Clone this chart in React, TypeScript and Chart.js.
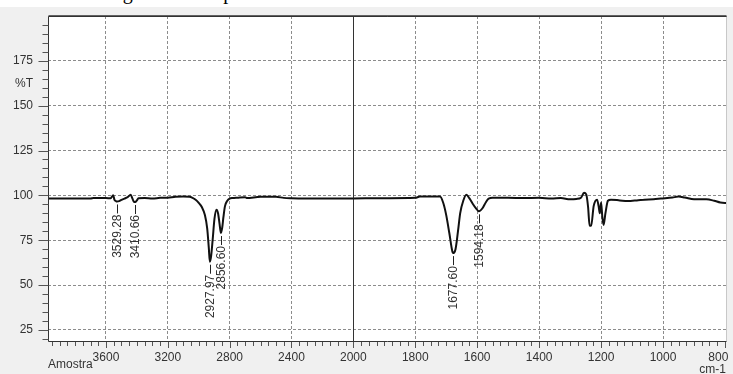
import React, { useEffect, useRef } from 'react';
import { Chart, registerables } from 'chart.js';

Chart.register(...registerables);

// Spectrum, high wavenumber part (3975 -> 2000 cm-1)
const WN_HIGH = [
  3975, 3700, 3680, 3600, 3570, 3553, 3545, 3535, 3529.28, 3515, 3500, 3480, 3460, 3440, 3430, 3420,
  3410.66, 3400, 3390, 3350, 3300, 3250, 3200, 3150, 3100, 3060, 3040, 3020, 3000, 2980, 2960, 2945,
  2935, 2927.97, 2920, 2910, 2898, 2885, 2875, 2865, 2856.6, 2848, 2840, 2830, 2815, 2800, 2780, 2750,
  2700, 2690, 2600, 2500, 2450, 2400, 2300, 2200, 2100, 2000,
];
const T_HIGH = [
  98.3, 98.3, 98.5, 98.5, 98.4, 100.0, 97.5, 96.8, 96.6, 96.8, 97.5, 98.2, 99.0, 100.3, 98.5, 96.5,
  96.3, 97.2, 98.4, 98.5, 98.3, 98.6, 98.7, 99.2, 99.3, 99.2, 98.6, 97.5, 95.8, 93.5, 89.0, 81.5,
  71.0, 63.0, 66.0, 75.0, 87.0, 92.0, 90.0, 84.0, 79.0, 82.0, 88.0, 94.0, 97.0, 98.2, 98.5, 98.7,
  99.0, 98.5, 99.2, 99.2, 98.6, 98.4, 98.3, 98.3, 98.3, 98.3,
];

// Spectrum, low wavenumber part (2000 -> 795 cm-1)
const WN_LOW = [
  2000, 1900, 1820, 1800, 1785, 1740, 1720, 1710, 1700, 1690, 1680, 1677.6, 1670, 1662, 1655, 1645,
  1635, 1625, 1615, 1605, 1594.18, 1583, 1572, 1563, 1550, 1500, 1450, 1400, 1360, 1330, 1300, 1280,
  1265, 1255, 1248, 1242, 1237, 1232, 1224, 1213, 1208, 1204, 1200, 1196, 1192, 1186, 1178, 1168,
  1140, 1115, 1080, 1060, 1030, 1007, 970, 950, 930, 900, 860, 835, 815, 800, 795,
];
const T_LOW = [
  98.3, 98.4, 98.5, 98.6, 99.3, 99.4, 99.3, 96.0, 89.0, 79.0, 68.5, 67.8, 70.0, 80.0, 90.0, 97.0,
  100.3, 98.3, 95.5, 93.0, 91.1, 92.8, 96.2, 98.2, 98.6, 98.6, 98.5, 98.6, 98.2, 98.5, 97.8, 98.0,
  98.7, 101.4, 100.5, 93.5, 83.0, 83.0, 94.0, 97.6, 94.0, 90.0, 96.0, 88.0, 83.5, 90.0, 97.0, 97.6,
  97.2, 96.8, 97.3, 97.6, 97.8, 98.2, 98.8, 99.3, 98.8, 97.8, 97.8, 97.0, 96.0, 95.8, 95.8,
];

const X_TICKS_HIGH = [3600, 3200, 2800, 2400];
const X_TICKS_LOW = [2000, 1800, 1600, 1400, 1200, 1000, 800];
const Y_TICKS = [25, 50, 75, 100, 125, 150, 175];

const PEAK_WN = [3529.28, 3410.66, 2927.97, 2856.6, 1677.6, 1594.18];
const PEAK_T = [96.6, 96.3, 63.0, 79.0, 67.8, 91.1];
const PEAK_LABELS = ['3529.28', '3410.66', '2927.97', '2856.60', '1677.60', '1594.18'];

const FONT_FAMILY = '"Liberation Sans", Arial, sans-serif';
const TEXT_COLOR = '#333333';
const GRID_COLOR = '#8c8c8c';
const GRID_DASH = [3, 2];

const decorPlugin = {
  id: 'decor',
  beforeDraw(chart: any) {
    const { ctx, chartArea } = chart;
    ctx.save();
    ctx.fillStyle = '#f0f0f0';
    ctx.fillRect(0, 0, chart.width, chart.height);
    ctx.fillStyle = '#ffffff';
    ctx.fillRect(chartArea.left, chartArea.top, chartArea.right - chartArea.left, chartArea.bottom - chartArea.top);
    ctx.restore();
  },
  beforeDatasetsDraw(chart: any) {
    const { ctx, chartArea } = chart;
    const xr = chart.scales.xl;
    const x = Math.round(xr.getPixelForValue(2000)) + 0.5;
    ctx.save();
    ctx.strokeStyle = '#333333';
    ctx.lineWidth = 1;
    ctx.beginPath();
    ctx.moveTo(x, chartArea.top);
    ctx.lineTo(x, chartArea.bottom);
    ctx.stroke();
    ctx.restore();
  },
  afterDraw(chart: any) {
    const { ctx, chartArea } = chart;
    const xh = chart.scales.xh;
    const xl = chart.scales.xl;
    const y = chart.scales.y;
    const L = chartArea.left + 0.5;
    const R = Math.round(chartArea.right) - 0.5;
    const T = Math.round(chartArea.top) + 0.5;
    const B = Math.round(chartArea.bottom) + 0.5;
    ctx.save();
    // frame
    ctx.lineWidth = 1;
    ctx.strokeStyle = '#c8c8c8';
    ctx.beginPath();
    ctx.moveTo(R, T);
    ctx.lineTo(R, B);
    ctx.stroke();
    ctx.strokeStyle = '#333333';
    ctx.beginPath();
    ctx.moveTo(L, B);
    ctx.lineTo(L, T);
    ctx.lineTo(R, T);
    ctx.moveTo(L, B);
    ctx.lineTo(R, B);
    ctx.stroke();
    ctx.lineWidth = 1.5;
    ctx.beginPath();
    ctx.moveTo(L, T - 0.5);
    ctx.lineTo(R, T - 0.5);
    ctx.stroke();

    // tick marks
    ctx.lineWidth = 1;
    ctx.strokeStyle = '#555555';
    ctx.beginPath();
    for (let v = 3950; v >= 2050; v -= 50) {
      const px = Math.round(xh.getPixelForValue(v)) + 0.5;
      const len = v % 400 === 0 ? 6 : 4;
      ctx.moveTo(px, B + 0.5);
      ctx.lineTo(px, B + 0.5 + len);
    }
    for (let v = 2000; v >= 800; v -= 25) {
      const px = Math.round(xl.getPixelForValue(v)) + 0.5;
      const len = v % 200 === 0 ? 6 : 4;
      ctx.moveTo(px, B + 0.5);
      ctx.lineTo(px, B + 0.5 + len);
    }
    for (let v = 20; v <= 195; v += 5) {
      const py = Math.round(y.getPixelForValue(v)) + 0.5;
      const len = v % 25 === 0 ? 10 : 6;
      ctx.moveTo(L, py);
      ctx.lineTo(L - len, py);
    }
    ctx.stroke();

    // peak labels
    ctx.fillStyle = TEXT_COLOR;
    ctx.strokeStyle = '#222222';
    ctx.font = '12px ' + FONT_FAMILY;
    PEAK_WN.forEach((wn, i) => {
      const sc = wn >= 2000 ? xh : xl;
      const px = Math.round(sc.getPixelForValue(wn)) + 0.5;
      const py = y.getPixelForValue(PEAK_T[i]);
      ctx.beginPath();
      ctx.moveTo(px, py + 3);
      ctx.lineTo(px, py + 12);
      ctx.stroke();
      ctx.save();
      ctx.translate(px, py + 13);
      ctx.rotate(-Math.PI / 2);
      ctx.textAlign = 'right';
      ctx.textBaseline = 'middle';
      ctx.fillText(PEAK_LABELS[i], 0, 0);
      ctx.restore();
    });

    // axis titles
    ctx.textBaseline = 'alphabetic';
    ctx.textAlign = 'left';
    ctx.fillText('%T', 15, 87);
    ctx.fillText('Amostra', 48, 368);
    ctx.textAlign = 'right';
    ctx.fillText('cm-1', 726, 373);
    ctx.restore();
  },
};

const noPad = (s: any) => {
  s.paddingLeft = 0;
  s.paddingRight = 0;
  s.paddingTop = 0;
  s.paddingBottom = 0;
};

export default function App() {
  const ref = useRef<HTMLCanvasElement>(null);

  useEffect(() => {
    const canvas = ref.current;
    if (!canvas) return;
    const tickFont = { family: FONT_FAMILY, size: 12 };
    const chart = new Chart(canvas, {
      type: 'line',
      data: {
        datasets: [
          {
            data: WN_HIGH.map((x, i) => ({ x, y: T_HIGH[i] })),
            xAxisID: 'xh',
            yAxisID: 'y',
            borderColor: '#111111',
            borderWidth: 2,
            pointRadius: 0,
            cubicInterpolationMode: 'monotone',
            fill: false,
          },
          {
            data: WN_LOW.map((x, i) => ({ x, y: T_LOW[i] })),
            xAxisID: 'xl',
            yAxisID: 'y',
            borderColor: '#111111',
            borderWidth: 2,
            pointRadius: 0,
            cubicInterpolationMode: 'monotone',
            fill: false,
          },
        ],
      },
      plugins: [decorPlugin],
      options: {
        animation: false,
        responsive: false,
        devicePixelRatio: 1,
        layout: { padding: { top: 16, right: 6, left: 0, bottom: 0 } },
        plugins: { legend: { display: false }, tooltip: { enabled: false }, title: { display: false } },
        events: [],
        scales: {
          xh: {
            type: 'linear',
            position: 'bottom',
            stack: 'wn',
            stackWeight: 305.3,
            reverse: true,
            min: 2000,
            max: 3975,
            afterBuildTicks: (s: any) => {
              s.ticks = X_TICKS_HIGH.map((v) => ({ value: v }));
            },
            afterFit: (s: any) => {
              s.height = 33;
              noPad(s);
            },
            grid: { color: GRID_COLOR, lineWidth: 1, drawTicks: false },
            border: { display: false, dash: GRID_DASH },
            ticks: {
              font: tickFont,
              color: TEXT_COLOR,
              padding: 9,
              autoSkip: false,
              minRotation: 0,
              maxRotation: 0,
              callback: (v: any) => String(v),
            },
          },
          xl: {
            type: 'linear',
            position: 'bottom',
            stack: 'wn',
            stackWeight: 373.7,
            reverse: true,
            min: 793.5,
            max: 2000,
            afterBuildTicks: (s: any) => {
              s.ticks = X_TICKS_LOW.map((v) => ({ value: v }));
            },
            afterFit: (s: any) => {
              s.height = 33;
              noPad(s);
            },
            grid: {
              color: (c: any) => (c.tick && (c.tick.value === 2000 || c.tick.value === 800) ? 'rgba(0,0,0,0)' : GRID_COLOR),
              lineWidth: 1,
              drawTicks: false,
            },
            border: { display: false, dash: GRID_DASH },
            ticks: {
              font: tickFont,
              color: TEXT_COLOR,
              padding: 9,
              autoSkip: false,
              minRotation: 0,
              maxRotation: 0,
              callback: (v: any) => (v === 800 ? '800    ' : String(v)),
            },
          },
          y: {
            type: 'linear',
            position: 'left',
            min: 18.8,
            max: 200,
            afterBuildTicks: (s: any) => {
              s.ticks = Y_TICKS.map((v) => ({ value: v }));
            },
            afterFit: (s: any) => {
              s.width = 48;
              noPad(s);
            },
            grid: { color: GRID_COLOR, lineWidth: 1, drawTicks: false },
            border: { display: false, dash: GRID_DASH },
            ticks: { font: tickFont, color: TEXT_COLOR, padding: 15 },
          },
        },
      } as any,
    });
    return () => chart.destroy();
  }, []);

  return (
    <div
      style={{
        position: 'fixed',
        left: 0,
        top: 0,
        width: 733,
        height: 374,
        background: '#f0f0f0',
        overflow: 'hidden',
      }}
    >
      <canvas ref={ref} width={733} height={374} style={{ display: 'block', width: 733, height: 374 }} />
      <div
        style={{
          position: 'absolute',
          left: 0,
          top: 0,
          width: 733,
          height: 7,
          background: '#ffffff',
          overflow: 'hidden',
        }}
      >
        <div
          style={{
            position: 'absolute',
            left: 106,
            top: -18,
            whiteSpace: 'nowrap',
            fontFamily: '"Liberation Serif", "Times New Roman", serif',
            fontSize: 20,
            lineHeight: '20px',
            color: '#000000',
          }}
        >
          Figura 50 – Espectro de FTIR da amostra analisada
        </div>
      </div>
    </div>
  );
}
